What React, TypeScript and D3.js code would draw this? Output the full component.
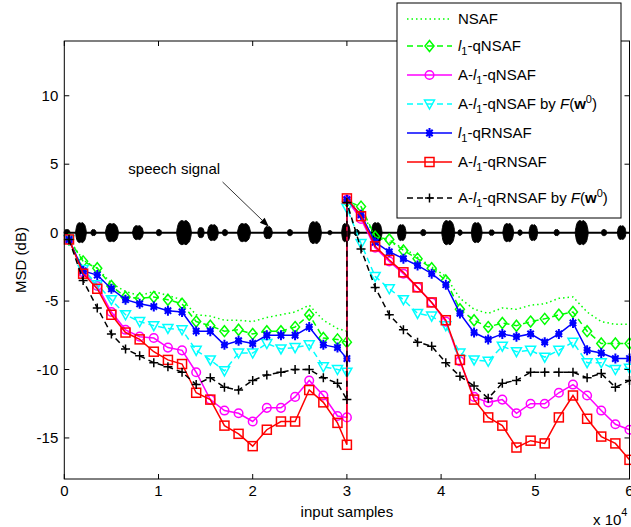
import React from 'react';
import * as d3 from 'd3';

// ---------- data ----------
const sampleX = [
  500, 2000, 3500, 5000, 6500, 8000, 9500, 11000, 12500, 14000, 15500, 17000, 18500, 20000,
  21500, 23000, 24500, 26000, 27500, 29000, 30000,
  30000, 31500, 33000, 34500, 36000, 37500, 39000, 40500, 42000, 43500, 45000, 46500, 48000,
  49500, 51000, 52500, 54000, 55500, 57000, 58500, 60000,
];

const nsaf = [
  -0.5, -2.0, -2.6, -3.7, -4.3, -4.6, -4.3, -4.6, -4.9, -6.0, -6.1, -6.4, -6.4, -6.5, -6.2, -6.0, -5.8, -5.3, -6.4, -7.0, -7.2,
  2.3, 1.6, -0.3, -0.7, -1.1, -1.8, -2.5, -3.2, -4.8, -5.6, -5.9, -5.5, -5.6, -5.3, -5.2, -4.8, -4.7, -5.8, -6.5, -6.7, -6.7,
];
const l1qNSAF = [
  -0.5, -2.1, -2.6, -3.9, -4.7, -4.8, -4.7, -4.9, -5.2, -6.5, -6.8, -7.2, -7.1, -7.4, -7.2, -7.2, -6.9, -6.0, -7.7, -7.8, -8.0,
  2.3, 1.9, -0.3, -0.5, -1.3, -1.9, -2.6, -3.5, -5.6, -6.4, -6.9, -6.6, -6.8, -6.5, -6.3, -6.0, -5.8, -7.2, -8.1, -8.1, -8.1,
];
const aL1qNSAF = [
  -0.5, -2.9, -3.9, -5.8, -7.1, -7.6, -7.7, -8.4, -8.6, -10.2, -12.2, -13.0, -13.2, -13.8, -12.8, -12.8, -12.0, -10.8, -11.9, -13.4, -13.5,
  2.4, 1.0, -1.1, -2.1, -3.0, -4.0, -5.1, -6.5, -9.4, -12.0, -12.4, -12.2, -13.2, -12.5, -12.5, -11.7, -11.1, -11.9, -13.0, -14.0, -14.4,
];
const aL1qNSAFbyF = [
  -0.5, -2.7, -3.8, -4.9, -6.0, -6.5, -6.8, -7.0, -7.1, -8.6, -9.3, -10.1, -8.8, -8.8, -8.1, -8.5, -8.4, -8.2, -9.8, -10.0, -10.2,
  1.8, -0.8, -3.2, -4.1, -4.9, -5.9, -6.1, -6.8, -8.8, -9.3, -9.4, -8.3, -8.7, -8.6, -9.1, -8.6, -8.0, -9.5, -9.5, -10.0, -9.9,
];
const l1qRNSAF = [
  -0.5, -2.8, -3.1, -4.1, -4.9, -5.2, -5.4, -5.7, -5.8, -7.2, -7.2, -8.2, -7.9, -8.1, -7.5, -7.5, -7.5, -6.9, -8.2, -8.4, -9.2,
  2.4, 1.3, -0.7, -1.4, -1.9, -2.4, -3.0, -3.8, -5.9, -7.3, -7.8, -7.4, -7.6, -7.4, -8.0, -7.4, -6.6, -8.6, -8.8, -9.2, -9.2,
];
const aL1qRNSAF = [
  -0.5, -3.0, -4.1, -6.0, -7.3, -7.8, -8.7, -9.3, -9.6, -11.7, -12.2, -14.1, -14.7, -15.6, -14.4, -13.8, -13.8, -11.5, -12.4, -13.9, -15.5,
  2.5, 1.2, -1.0, -2.0, -2.9, -4.0, -5.1, -6.4, -9.3, -12.2, -13.5, -14.1, -15.7, -15.2, -15.4, -13.5, -11.9, -13.6, -14.9, -15.4, -16.6,
];
const aL1qRNSAFbyF = [
  -0.5, -3.5, -5.5, -7.4, -8.5, -9.0, -9.5, -9.8, -10.2, -11.1, -10.6, -11.3, -11.5, -10.8, -10.4, -10.2, -10.0, -10.0, -10.6, -11.0, -12.2,
  2.2, -1.2, -4.0, -6.0, -7.1, -8.0, -8.3, -9.5, -10.5, -11.2, -12.1, -11.0, -10.8, -10.2, -10.2, -10.2, -10.2, -10.6, -10.3, -11.3, -10.8,
];

// speech signal bursts: centre (samples), half width (samples), amplitude (dB)
const speechPos = [
  290, 1770, 3100, 5060, 7820, 10050, 12710, 14510, 15780, 17060, 19080, 21630, 23960, 26610, 28200, 29900,
  31040, 33160, 35820, 38110, 40760, 42010, 43780, 45370, 47130, 48380, 49790, 52270, 54930, 57300, 59170,
];
const speechHalfWidth = [
  320, 580, 280, 700, 580, 280, 800, 340, 580, 280, 700, 460, 280, 700, 230, 460,
  280, 580, 460, 280, 700, 230, 580, 280, 580, 230, 460, 280, 700, 280, 460,
];
const speechAmp = [
  0.22, 0.73, 0.22, 0.66, 0.51, 0.22, 0.88, 0.37, 0.58, 0.22, 0.66, 0.44, 0.22, 0.8, 0.15, 0.66,
  0.22, 0.73, 0.58, 0.22, 0.88, 0.2, 0.73, 0.2, 0.66, 0.2, 0.58, 0.22, 0.88, 0.22, 0.5,
];
const blobProfile = [0, 0.72, 0.95, 1, 0.93, 1, 0.9, 0.68, 0];

const xTicks = [0, 10000, 20000, 30000, 40000, 50000, 60000];
const xTickLabels = ['0', '1', '2', '3', '4', '5', '6'];
const yTicks = [-15, -10, -5, 0, 5, 10];

// ---------- styles ----------
type Mk = 'none' | 'diamond' | 'circle' | 'triDown' | 'star' | 'square' | 'plus';
const seriesValues = [nsaf, l1qNSAF, aL1qNSAF, aL1qNSAFbyF, l1qRNSAF, aL1qRNSAF, aL1qRNSAFbyF];
const seriesColor = ['#00ff00', '#00ff00', '#ff00ff', '#00ffff', '#0000ff', '#ff0000', '#000000'];
const seriesDash = ['1.5 3', '6 4', '', '6 4', '', '', '6 4'];
const seriesMarker: Mk[] = ['none', 'diamond', 'circle', 'triDown', 'star', 'square', 'plus'];
const legendY = [19, 46, 75, 104, 133, 162, 198];

const FONT = '"Liberation Sans", Arial, Helvetica, sans-serif';
const FS = 15;

function Marker({ type, cx, cy, color }: { type: Mk; cx: number; cy: number; color: string }) {
  const sw = 1.5;
  switch (type) {
    case 'diamond':
      return <path d={`M${cx},${cy - 5.5}L${cx + 4.5},${cy}L${cx},${cy + 5.5}L${cx - 4.5},${cy}Z`} fill="none" stroke={color} strokeWidth={sw} />;
    case 'circle':
      return <circle cx={cx} cy={cy} r={4.3} fill="none" stroke={color} strokeWidth={sw} />;
    case 'triDown':
      return <path d={`M${cx - 5},${cy - 4}L${cx + 5},${cy - 4}L${cx},${cy + 5}Z`} fill="none" stroke={color} strokeWidth={sw} />;
    case 'star':
      return (
        <g stroke={color} strokeWidth={2}>
          <path d={`M${cx},${cy - 5}V${cy + 5}M${cx - 3.2},${cy - 3.2}L${cx + 3.2},${cy + 3.2}M${cx - 3.2},${cy + 3.2}L${cx + 3.2},${cy - 3.2}M${cx - 3.5},${cy}H${cx + 3.5}`} />
          <circle cx={cx} cy={cy} r={2.6} fill={color} stroke="none" />
        </g>
      );
    case 'square':
      return <rect x={cx - 4.5} y={cy - 4.5} width={9} height={9} fill="none" stroke={color} strokeWidth={sw} />;
    case 'plus':
      return <path d={`M${cx - 4.5},${cy}H${cx + 4.5}M${cx},${cy - 4.5}V${cy + 4.5}`} stroke={color} strokeWidth={sw} />;
    default:
      return null;
  }
}

function L1() {
  return (
    <>
      <tspan fontStyle="italic">l</tspan>
      <tspan dy={4} fontSize={11}>1</tspan>
      <tspan dy={-4}>-q</tspan>
    </>
  );
}
function FW() {
  return (
    <>
      <tspan fontStyle="italic">F</tspan>
      <tspan>(</tspan>
      <tspan fontWeight="bold">w</tspan>
      <tspan dy={-6} fontSize={11}>0</tspan>
      <tspan dy={6}>)</tspan>
    </>
  );
}
const legendLabels = [
  <>NSAF</>,
  <><L1 />NSAF</>,
  <>A-<L1 />NSAF</>,
  <>A-<L1 />NSAF by <FW /></>,
  <><L1 />RNSAF</>,
  <>A-<L1 />RNSAF</>,
  <>A-<L1 />RNSAF by <FW /></>,
];

export default function App() {
  const W = 631, H = 527;
  const left = 64.3, right = 629.5, top = 41, bottom = 479;
  const x = d3.scaleLinear().domain([0, 60000]).range([left, right]);
  const y = d3.scaleLinear().domain([-18, 14]).range([bottom, top]);

  const line = d3.line<number>().x((_, i) => x(sampleX[i])).y((d) => y(d));

  const blobArea = (c: number, hw: number, a: number) =>
    d3
      .area<number>()
      .x((_, i) => x(c - hw + (2 * hw * i) / (blobProfile.length - 1)))
      .y0((p) => y(-a * p))
      .y1((p) => y(a * p))
      .curve(d3.curveCatmullRom)(blobProfile) || '';

  // annotation in data units
  const annText = { x: 6800, y: 4.3 };
  const arrowFrom = { x: 16800, y: 3.7 };
  const arrowTo = { x: 21700, y: 0.45 };
  const ax0 = x(arrowFrom.x), ay0 = y(arrowFrom.y), ax1 = x(arrowTo.x), ay1 = y(arrowTo.y);
  const ang = Math.atan2(ay1 - ay0, ax1 - ax0);
  const ah = 9, aw = 3.5;
  const bx = ax1 - ah * Math.cos(ang), by = ay1 - ah * Math.sin(ang);
  const arrowHead = `M${ax1},${ay1}L${bx - aw * Math.sin(ang)},${by + aw * Math.cos(ang)}L${bx + aw * Math.sin(ang)},${by - aw * Math.cos(ang)}Z`;

  const legX0 = 397, legX1 = 621, legY0 = 3, legY1 = 218;

  return (
    <svg width={W} height={H} style={{ position: 'absolute', left: 0, top: 0, background: '#fff' }} fontFamily={FONT} fontSize={FS}>
      <rect x={0} y={0} width={W} height={H} fill="#fff" />

      {/* speech signal */}
      <g>
        <line x1={x(0)} x2={x(60000)} y1={y(0)} y2={y(0)} stroke="#000" strokeWidth={2} />
        {speechPos.map((c, i) => (
          <path key={i} d={blobArea(c, speechHalfWidth[i], speechAmp[i])} fill="#000" stroke="#000" strokeWidth={1} />
        ))}
      </g>

      {/* series */}
      {seriesValues.map((vals, si) => (
        <g key={si}>
          <path d={line(vals) || ''} fill="none" stroke={seriesColor[si]} strokeWidth={1.5} strokeDasharray={seriesDash[si] || undefined} />
          {seriesMarker[si] !== 'none' &&
            vals.map((v, i) => <Marker key={i} type={seriesMarker[si]} cx={x(sampleX[i])} cy={y(v)} color={seriesColor[si]} />)}
        </g>
      ))}

      {/* annotation */}
      <text x={x(annText.x)} y={y(annText.y)} fill="#000">speech signal</text>
      <line x1={ax0} y1={ay0} x2={bx} y2={by} stroke="#000" strokeWidth={0.8} />
      <path d={arrowHead} fill="#000" />

      {/* axes box */}
      <rect x={left} y={top} width={right - left} height={bottom - top} fill="none" stroke="#000" strokeWidth={1} />
      {xTicks.map((t, i) => (
        <g key={i}>
          <line x1={x(t)} x2={x(t)} y1={bottom} y2={bottom - 5} stroke="#000" />
          <line x1={x(t)} x2={x(t)} y1={top} y2={top + 5} stroke="#000" />
          <text x={x(t)} y={bottom + 17} textAnchor="middle" fill="#000">{xTickLabels[i]}</text>
        </g>
      ))}
      {yTicks.map((t) => (
        <g key={t}>
          <line x1={left} x2={left + 5} y1={y(t)} y2={y(t)} stroke="#000" />
          <line x1={right} x2={right - 5} y1={y(t)} y2={y(t)} stroke="#000" />
          <text x={left - 6} y={y(t)} dy="0.35em" textAnchor="end" fill="#000">{t}</text>
        </g>
      ))}
      <text x={(left + right) / 2} y={517} textAnchor="middle" fill="#000">input samples</text>
      <text x={593} y={525} fill="#000">x 10<tspan dy={-9} fontSize={11}>4</tspan></text>
      <text transform={`translate(26,260) rotate(-90)`} textAnchor="middle" fill="#000">MSD (dB)</text>

      {/* legend */}
      <rect x={legX0} y={legY0} width={legX1 - legX0} height={legY1 - legY0} fill="#fff" stroke="#000" strokeWidth={1} />
      {legendLabels.map((lab, i) => (
        <g key={i}>
          <line x1={407} x2={452} y1={legendY[i]} y2={legendY[i]} stroke={seriesColor[i]} strokeWidth={1.5} strokeDasharray={seriesDash[i] || undefined} />
          <Marker type={seriesMarker[i]} cx={429.5} cy={legendY[i]} color={seriesColor[i]} />
          <text x={458} y={legendY[i] + 5} fill="#000">{lab}</text>
        </g>
      ))}
    </svg>
  );
}
